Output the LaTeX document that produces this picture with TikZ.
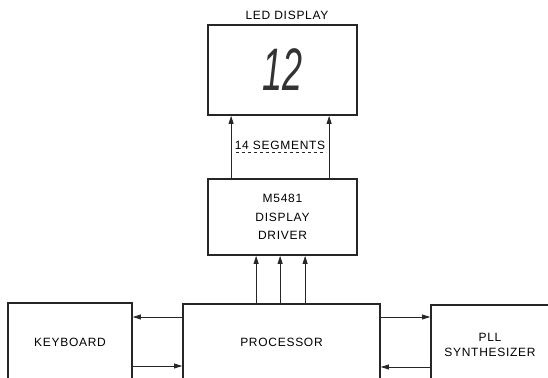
\documentclass[tikz,border=0pt]{standalone}
\usepackage{fontspec}
\setmainfont{Liberation Sans}
\newfontfamily\lblfont{Liberation Sans}[LetterSpace=6]
\usepackage{tikz}
\usetikzlibrary{arrows.meta, calc}

\begin{document}
\begin{tikzpicture}[
    x=1pt, y=1pt,
    block/.style={draw=black!85, line width=1.8pt, font=\lblfont\fontsize{12}{18.5}\selectfont, align=center, inner sep=0pt},
    arr/.style={-{Triangle[length=8pt, width=5pt]}, line width=0.8pt, color=black!85},
    lbl/.style={font=\lblfont\fontsize{12}{13}\selectfont, inner sep=0pt}
]
    \useasboundingbox (0,0) rectangle (548,377);
    \clip (0,0) rectangle (548,377);

    % display and driver (top column)
    \node[block, minimum width=149, minimum height=90] (disp) at (282.5,307) {};
    \node[lbl] (displbl) at (287,362) {LED DISPLAY};
    \node[font=\itshape\fontsize{60}{60}\selectfont, xscale=0.6, inner sep=0pt, color=black!80] (digits) at (283,307) {12};
    \node[block, minimum width=149, minimum height=76] (drv) at (282.5,160) {M5481\\DISPLAY\\DRIVER};

    % bottom row: boxes run off the lower edge
    \node[block, minimum width=197, minimum height=76] (proc) at (281.5,35) {PROCESSOR};
    \node[block, minimum width=124, minimum height=78] (kbd) at (70,35) {KEYBOARD};
    \node[block, minimum width=118, minimum height=79, font=\lblfont\fontsize{12}{15}\selectfont] (pll) at (490,32.5) {PLL\\SYNTHESIZER};

    % 14 segments bus
    \foreach \dx in {24,122}
        \draw[arr] ($(drv.north west)+(\dx,0)$) -- ($(disp.south west)+(\dx,0)$);
    \node[lbl] (seglbl) at (280,232) {14 SEGMENTS};
    \coordinate (segL) at ($(drv.north west)+(29,26)$);
    \coordinate (segR) at ($(drv.north west)+(119,26)$);
    \draw[dashed, line width=0.6pt, color=black!85] (segL) -- (segR);

    % processor to driver
    \foreach \dx [count=\i] in {49,73,98} {
        \coordinate (d\i) at ($(drv.south west)+(\dx,0)$);
        \draw[arr] (proc.north -| d\i) -- (d\i);
    }

    % keyboard <-> processor
    \draw[arr] (proc.west |- 0,60) -- (kbd.east |- 0,60);
    \draw[arr] (kbd.east |- 0,11) -- (proc.west |- 0,11);

    % processor <-> PLL
    \draw[arr] (proc.east |- 0,60) -- (pll.west |- 0,60);
    \draw[arr] (pll.west |- 0,10) -- (proc.east |- 0,10);
\end{tikzpicture}
\end{document}
